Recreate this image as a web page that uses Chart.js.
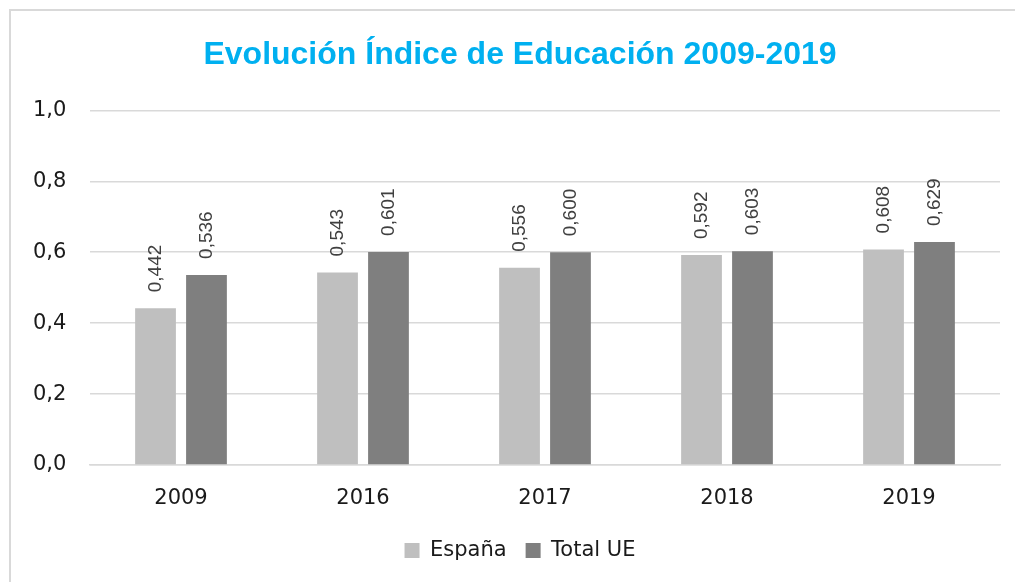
<!DOCTYPE html>
<html>
<head>
<meta charset="utf-8">
<script src="https://cdn.jsdelivr.net/npm/chart.js@4.4.0/dist/chart.umd.min.js"></script>
<style>
  html, body { margin: 0; padding: 0; background: #fff; }
  #wrap { position: relative; width: 1015px; height: 582px; }
  #frame { position: absolute; left: 9px; top: 9px; right: -10px; bottom: -10px;
           border-top: 2px solid #D9D9D9; border-left: 2px solid #D9D9D9; }
  canvas { position: absolute; left: 0; top: 0; }
</style>
</head>
<body>
<div id="wrap">
  <div id="frame"></div>
  <canvas id="c" width="1015" height="582"></canvas>
</div>
<script>
const categories = ["2009", "2016", "2017", "2018", "2019"];
const espana = [0.442, 0.543, 0.556, 0.592, 0.608];
const totalUE = [0.536, 0.601, 0.600, 0.603, 0.629];
const seriesNames = ["España", "Total UE"];
const titleText = "Evolución Índice de Educación 2009-2019";

const fmt = (v, d) => v.toFixed(d).replace('.', ',');

const valueLabels = {
  id: 'valueLabels',
  afterDatasetsDraw(chart) {
    const ctx = chart.ctx;
    ctx.save();
    ctx.font = '19px "Liberation Sans", Arial, sans-serif';
    ctx.fillStyle = '#404040';
    ctx.textAlign = 'left';
    ctx.textBaseline = 'middle';
    chart.data.datasets.forEach((ds, di) => {
      const meta = chart.getDatasetMeta(di);
      meta.data.forEach((bar, i) => {
        ctx.save();
        ctx.translate(bar.x, bar.y - 16);
        ctx.rotate(-Math.PI / 2);
        ctx.fillText(fmt(ds.data[i], 3), 0, 0);
        ctx.restore();
      });
    });
    ctx.restore();
  }
};

Chart.defaults.font.family = '"DejaVu Sans", sans-serif';
Chart.defaults.color = '#1a1a1a';

new Chart(document.getElementById('c'), {
  type: 'bar',
  data: {
    labels: categories,
    datasets: [
      { label: seriesNames[0], data: espana, backgroundColor: '#BFBFBF',
        categoryPercentage: 0.56, barPercentage: 0.8 },
      { label: seriesNames[1], data: totalUE, backgroundColor: '#7F7F7F',
        categoryPercentage: 0.56, barPercentage: 0.8 }
    ]
  },
  options: {
    responsive: false,
    animation: false,
    layout: { padding: { left: 40, right: 15, top: 0, bottom: 11 } },
    plugins: {
      title: {
        display: true,
        text: titleText,
        color: '#00B0F0',
        font: { family: '"Liberation Sans", Arial, sans-serif', size: 32, weight: 'bold' },
        padding: { top: 36, bottom: 36 }
      },
      legend: {
        position: 'bottom',
        labels: { boxWidth: 15, boxHeight: 15, padding: 19, font: { size: 21 }, color: '#1a1a1a' }
      },
      tooltip: { enabled: false }
    },
    scales: {
      x: {
        afterFit(s) { s.height = 56; },
        grid: { display: false, drawTicks: false },
        border: { display: true, color: '#D9D9D9', width: 1.5 },
        ticks: { font: { size: 21 }, padding: 21, color: '#1a1a1a' }
      },
      y: {
        min: 0, max: 1,
        afterFit(s) { s.width = 50; },
        grid: { color: '#D9D9D9', lineWidth: 1.5, drawTicks: false },
        border: { display: false },
        ticks: { stepSize: 0.2, mirror: true, padding: -57, font: { size: 21 }, color: '#1a1a1a',
                 callback: (v) => fmt(v, 1) }
      }
    }
  },
  plugins: [valueLabels]
});
</script>
</body>
</html>
